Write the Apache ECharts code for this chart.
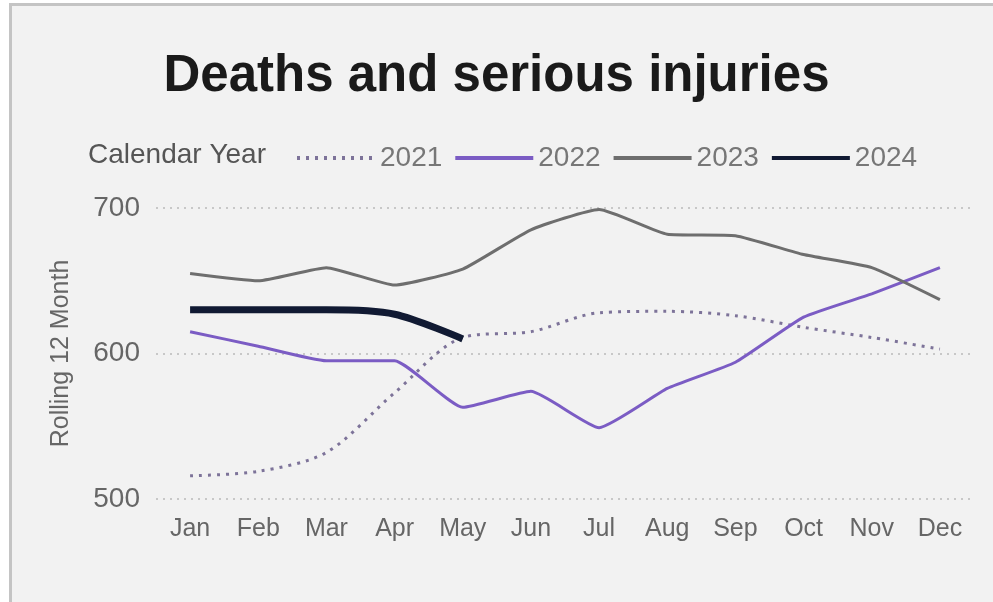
<!DOCTYPE html>
<html>
<head>
<meta charset="utf-8">
<script src="https://cdn.jsdelivr.net/npm/echarts@6/dist/echarts.min.js"></script>
<style>
html,body{margin:0;padding:0;background:#fff;}
#frame{position:absolute;left:9px;top:3px;width:984px;height:599px;background:#f2f2f2;border-left:3px solid #c4c4c4;border-top:3px solid #c4c4c4;box-sizing:border-box;}
#chart{position:absolute;left:0;top:0;width:993px;height:602px;}
</style>
</head>
<body>
<div id="frame"></div>
<div id="chart"></div>
<script>
const months = ['Jan','Feb','Mar','Apr','May','Jun','Jul','Aug','Sep','Oct','Nov','Dec'];
const years = ['2021','2022','2023','2024'];
const y2021 = [516, 519, 532, 573, 611, 615, 628, 629, 626, 618, 611, 603];
const y2022 = [615, 605, 595, 595, 563, 574, 549, 576, 594, 625, 641, 659];
const y2023 = [655, 650, 659, 647, 658, 685, 699, 682, 681, 668, 659, 637];
const y2024 = [630, 630, 630, 627, 610];
const yTicks = [500, 600, 700];

const font = 'Liberation Sans, Arial, sans-serif';
const chart = echarts.init(document.getElementById('chart'));
chart.setOption({
  backgroundColor: 'transparent',
  title: {
    text: 'Deaths and serious injuries',
    left: 'center', top: 46,
    textStyle: {fontFamily: font, fontSize: 51, fontWeight: 'bold', color: '#1a1a1a'}
  },
  graphic: [{
    type: 'text', left: 88, top: 141,
    style: {text: 'Calendar Year', font: '28px ' + font, fill: '#555'}
  }],
  legend: {
    left: 290, top: 139,
    itemWidth: 78, itemHeight: 28, itemGap: 11,
    itemStyle: {opacity: 0},
    lineStyle: {width: 4},
    textStyle: {fontFamily: font, fontSize: 28, color: '#777'},
    data: years
  },
  grid: {left: 156, right: 19, top: 208, bottom: 103},
  xAxis: {
    type: 'category', data: months, boundaryGap: true,
    axisLine: {show: false}, axisTick: {show: false},
    axisLabel: {fontFamily: font, fontSize: 25, color: '#666', margin: 18}
  },
  yAxis: {
    type: 'value', min: yTicks[0], max: yTicks[yTicks.length-1], interval: 100,
    name: 'Rolling 12 Month', nameLocation: 'middle', nameGap: 82,
    nameTextStyle: {fontFamily: font, fontSize: 25, color: '#666'},
    axisLabel: {fontFamily: font, fontSize: 28, color: '#666', margin: 16},
    splitLine: {lineStyle: {type: [2, 5], color: '#c8c8c8', width: 2}}
  },
  series: [
    {name: '2021', type: 'line', data: y2021, smooth: 0.3, symbol: 'none',
     lineStyle: {type: [3, 6], width: 3, color: '#7d7399'}, itemStyle: {color: '#7d7399'}},
    {name: '2022', type: 'line', data: y2022, smooth: 0.15, symbol: 'none',
     lineStyle: {width: 3, color: '#7b5cc4'}, itemStyle: {color: '#7b5cc4'}},
    {name: '2023', type: 'line', data: y2023, smooth: 0.15, symbol: 'none',
     lineStyle: {width: 3, color: '#6e6e6e'}, itemStyle: {color: '#6e6e6e'}},
    {name: '2024', type: 'line', data: y2024, smooth: 0.3, symbol: 'none',
     lineStyle: {width: 7, color: '#111a33'}, itemStyle: {color: '#111a33'}}
  ]
});
</script>
</body>
</html>
